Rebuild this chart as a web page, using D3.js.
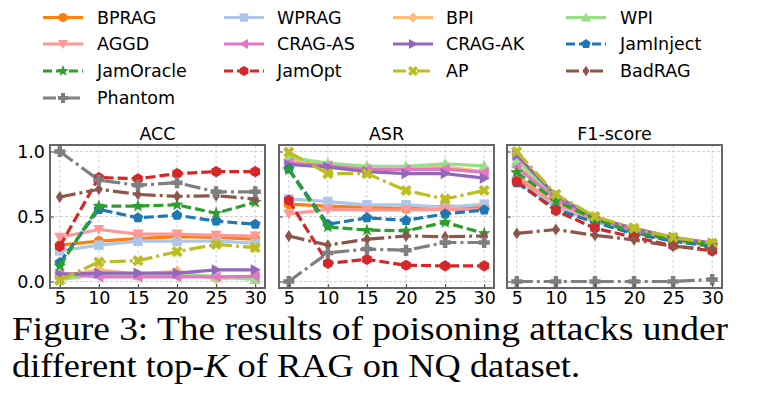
<!DOCTYPE html>
<html>
<head>
<meta charset="utf-8">
<script src="https://cdn.jsdelivr.net/npm/d3@7"></script>
<style>
  body { margin: 0; background: #fff; }
  svg { display: block; }
  text { font-family: "DejaVu Sans", sans-serif; }
</style>
</head>
<body>
<svg id="chart" width="758" height="395"></svg>
<script>
// top-K values on the x axis
const topK = [5, 10, 15, 20, 25, 30];
const yTicks = [0, 0.5, 1.0];
const metrics = ['ACC', 'ASR', 'F1-score'];
const methods = ['BPRAG', 'WPRAG', 'BPI', 'WPI', 'AGGD', 'CRAG-AS', 'CRAG-AK',
                 'JamInject', 'JamOracle', 'JamOpt', 'AP', 'BadRAG', 'Phantom'];

// values, one array per method
const accValues = {
  'BPRAG':     [0.28, 0.31, 0.33, 0.345, 0.34, 0.325],
  'WPRAG':     [0.235, 0.28, 0.31, 0.31, 0.31, 0.295],
  'BPI':       [0.04, 0.09, 0.055, 0.08, 0.02, 0.04],
  'WPI':       [0.015, 0.055, 0.045, 0.055, 0.04, 0.015],
  'AGGD':      [0.34, 0.40, 0.365, 0.365, 0.355, 0.35],
  'CRAG-AS':   [0.065, 0.035, 0.035, 0.035, 0.035, 0.04],
  'CRAG-AK':   [0.055, 0.065, 0.065, 0.065, 0.09, 0.09],
  'JamInject': [0.145, 0.555, 0.49, 0.51, 0.465, 0.44],
  'JamOracle': [0.12, 0.58, 0.58, 0.59, 0.525, 0.61],
  'JamOpt':    [0.27, 0.80, 0.79, 0.83, 0.845, 0.845],
  'AP':        [0.01, 0.15, 0.16, 0.23, 0.285, 0.26],
  'BadRAG':    [0.65, 0.71, 0.67, 0.655, 0.66, 0.635],
  'Phantom':   [1.0, 0.78, 0.74, 0.76, 0.69, 0.69]
};
const asrValues = {
  'BPRAG':     [0.595, 0.58, 0.57, 0.56, 0.58, 0.57],
  'WPRAG':     [0.635, 0.615, 0.59, 0.59, 0.57, 0.595],
  'BPI':       [0.94, 0.89, 0.88, 0.87, 0.88, 0.845],
  'WPI':       [0.955, 0.91, 0.885, 0.885, 0.905, 0.89],
  'AGGD':      [0.52, 0.555, 0.55, 0.55, 0.555, 0.555],
  'CRAG-AS':   [0.91, 0.89, 0.86, 0.86, 0.865, 0.84],
  'CRAG-AK':   [0.90, 0.88, 0.845, 0.83, 0.83, 0.795],
  'JamInject': [0.865, 0.44, 0.49, 0.47, 0.52, 0.55],
  'JamOracle': [0.86, 0.42, 0.395, 0.39, 0.455, 0.37],
  'JamOpt':    [0.625, 0.14, 0.17, 0.125, 0.12, 0.12],
  'AP':        [0.995, 0.83, 0.83, 0.70, 0.635, 0.70],
  'BadRAG':    [0.35, 0.28, 0.325, 0.35, 0.345, 0.35],
  'Phantom':   [0.0, 0.22, 0.25, 0.24, 0.30, 0.30]
};
const f1Values = {
  'BPRAG':     [0.79, 0.58, 0.465, 0.38, 0.32, 0.28],
  'WPRAG':     [0.775, 0.57, 0.46, 0.375, 0.315, 0.275],
  'BPI':       [0.89, 0.64, 0.49, 0.40, 0.33, 0.29],
  'WPI':       [0.93, 0.65, 0.49, 0.40, 0.335, 0.29],
  'AGGD':      [0.815, 0.60, 0.47, 0.385, 0.32, 0.28],
  'CRAG-AS':   [0.88, 0.63, 0.485, 0.395, 0.33, 0.285],
  'CRAG-AK':   [0.97, 0.66, 0.49, 0.41, 0.34, 0.295],
  'JamInject': [0.76, 0.555, 0.455, 0.365, 0.31, 0.27],
  'JamOracle': [0.84, 0.62, 0.48, 0.375, 0.325, 0.28],
  'JamOpt':    [0.77, 0.545, 0.41, 0.34, 0.275, 0.235],
  'AP':        [1.0, 0.67, 0.50, 0.41, 0.34, 0.295],
  'BadRAG':    [0.37, 0.40, 0.355, 0.32, 0.27, 0.25],
  'Phantom':   [0.0, 0.0, 0.0, 0.0, 0.0, 0.015]
};
const panelValues = [accValues, asrValues, f1Values];

// per-method look
const styles = {
  'BPRAG':     { color: '#ff7f0e', dash: null,       marker: 'o' },
  'WPRAG':     { color: '#aec7e8', dash: null,       marker: 's' },
  'BPI':       { color: '#ffbb78', dash: null,       marker: 'D' },
  'WPI':       { color: '#98df8a', dash: null,       marker: '^' },
  'AGGD':      { color: '#ff9896', dash: null,       marker: 'v' },
  'CRAG-AS':   { color: '#e377c2', dash: null,       marker: '<' },
  'CRAG-AK':   { color: '#9467bd', dash: null,       marker: '>' },
  'JamInject': { color: '#1f77b4', dash: '10,4',     marker: 'p' },
  'JamOracle': { color: '#2ca02c', dash: '10,4',     marker: '*' },
  'JamOpt':    { color: '#d62728', dash: '10,4',     marker: 'h' },
  'AP':        { color: '#bcbd22', dash: '16,4,3,4', marker: 'X' },
  'BadRAG':    { color: '#8c564b', dash: '16,4,3,4', marker: 'd' },
  'Phantom':   { color: '#7f7f7f', dash: '16,4,3,4', marker: 'P' }
};

// simple filled marker shapes, s ~ half size
function poly(pts) {
  return 'M' + pts.map(p => p[0].toFixed(2) + ',' + p[1].toFixed(2)).join('L') + 'Z';
}
function regular(n, r, rot) {
  return d3.range(n).map(i => {
    const a = rot + i * 2 * Math.PI / n;
    return [r * Math.sin(a), -r * Math.cos(a)];
  });
}
function markerPath(type, s) {
  switch (type) {
    case 'o': return d3.symbol(d3.symbolCircle, Math.PI * s * s * 0.85)();
    case 's': return poly([[-s*0.85,-s*0.85],[s*0.85,-s*0.85],[s*0.85,s*0.85],[-s*0.85,s*0.85]]);
    case 'D': return poly([[0,-s],[s,0],[0,s],[-s,0]]);
    case 'd': return poly([[0,-s*1.05],[s*0.7,0],[0,s*1.05],[-s*0.7,0]]);
    case '^': return poly([[0,-s],[s,s*0.8],[-s,s*0.8]]);
    case 'v': return poly([[0,s],[s,-s*0.8],[-s,-s*0.8]]);
    case '<': return poly([[-s,0],[s*0.8,-s],[s*0.8,s]]);
    case '>': return poly([[s,0],[-s*0.8,-s],[-s*0.8,s]]);
    case 'p': return poly(regular(5, s, 0));
    case 'h': return poly(regular(6, s, 0));
    case '*': {
      const pts = [];
      for (let i = 0; i < 10; i++) {
        const r = i % 2 ? s * 0.5 : s * 1.2;
        const a = i * Math.PI / 5;
        pts.push([r * Math.sin(a), -r * Math.cos(a)]);
      }
      return poly(pts);
    }
    case 'X': {
      const w = s * 0.5, L = s;
      return poly([[w,0],[L,L-w],[L-w,L],[0,w],[-L+w,L],[-L,L-w],[-w,0],[-L,-L+w],[-L+w,-L],[0,-w],[L-w,-L],[L,-L+w]]);
    }
    case 'P': {
      const w = s * 0.4, L = s;
      return poly([[-w,-L],[w,-L],[w,-w],[L,-w],[L,w],[w,w],[w,L],[-w,L],[-w,w],[-L,w],[-L,-w],[-w,-w]]);
    }
  }
}

const svg = d3.select('#chart');

// ---- legend (4 columns, row-major) ----
const legHandleX = [43, 224, 393, 566];
const legTextX = [97, 277, 446, 620];
const legRowY = [17.5, 44, 71, 98];
const legend = svg.append('g').attr('class', 'legend');
methods.forEach((name, i) => {
  const col = i % 4, row = Math.floor(i / 4);
  const st = styles[name];
  const g = legend.append('g').attr('transform', `translate(0,${legRowY[row]})`);
  g.append('line')
    .attr('x1', legHandleX[col]).attr('x2', legHandleX[col] + 40)
    .attr('stroke', st.color).attr('stroke-width', 3.2)
    .attr('stroke-dasharray', st.dash ? (st.dash === '10,4' ? '9,4' : '13,4,3,4') : null);
  g.append('path')
    .attr('transform', `translate(${legHandleX[col] + 20},0)`)
    .attr('d', markerPath(st.marker, 5))
    .attr('fill', st.color);
  g.append('text')
    .attr('x', legTextX[col]).attr('y', 0).attr('dy', '0.36em')
    .attr('font-size', 17.5).attr('fill', '#000')
    .text(name);
});

// ---- panels ----
const panelLeft = [50, 279, 507];
const panelWidth = 215;
const plotTop = 145, plotBottom = 288;

metrics.forEach((metric, pi) => {
  const left = panelLeft[pi], right = left + panelWidth;
  const x = d3.scaleLinear().domain([3.75, 31.25]).range([left, right]);
  const y = d3.scaleLinear().domain([-0.05, 1.05]).range([plotBottom, plotTop]);
  const g = svg.append('g').attr('class', 'panel');

  // grid
  g.append('g').selectAll('line').data(topK).join('line')
    .attr('x1', d => x(d)).attr('x2', d => x(d)).attr('y1', plotTop).attr('y2', plotBottom)
    .attr('stroke', '#c8c8c8').attr('stroke-width', 0.8).attr('stroke-dasharray', '3,2');
  g.append('g').selectAll('line').data(yTicks).join('line')
    .attr('y1', d => y(d)).attr('y2', d => y(d)).attr('x1', left).attr('x2', right)
    .attr('stroke', '#c8c8c8').attr('stroke-width', 0.8).attr('stroke-dasharray', '3,2');

  // series
  const values = panelValues[pi];
  const line = d3.line().x((d, i) => x(topK[i])).y(d => y(d));
  methods.forEach(name => {
    const st = styles[name];
    const s = g.append('g');
    s.append('path')
      .attr('d', line(values[name]))
      .attr('fill', 'none').attr('stroke', st.color).attr('stroke-width', 3.2)
      .attr('stroke-linejoin', 'round')
      .attr('stroke-dasharray', st.dash);
    s.selectAll('path.m').data(values[name]).join('path')
      .attr('class', 'm')
      .attr('transform', (d, i) => `translate(${x(topK[i])},${y(d)})`)
      .attr('d', markerPath(st.marker, 5.6))
      .attr('fill', st.color);
  });

  // axes with inward ticks
  const xAxis = d3.axisBottom(x).tickValues(topK).tickSizeInner(-4).tickSizeOuter(0).tickPadding(4);
  const gx = g.append('g').attr('transform', `translate(0,${plotBottom})`).call(xAxis);
  const yAxis = d3.axisLeft(y).tickValues(yTicks).tickSizeInner(-4).tickSizeOuter(0).tickPadding(5)
    .tickFormat(pi === 0 ? d3.format('.1f') : () => '');
  const gy = g.append('g').attr('transform', `translate(${left},0)`).call(yAxis);
  [gx, gy].forEach(a => {
    a.select('.domain').remove();
    a.selectAll('line').attr('stroke', '#444').attr('stroke-width', 1);
    a.selectAll('text').attr('font-size', 17.5).attr('fill', '#000')
      .attr('font-family', '"DejaVu Sans", sans-serif');
  });

  // frame
  g.append('rect')
    .attr('x', left).attr('y', plotTop).attr('width', panelWidth).attr('height', plotBottom - plotTop)
    .attr('fill', 'none').attr('stroke', '#666').attr('stroke-width', 2);

  // title
  g.append('text')
    .attr('x', (left + right) / 2).attr('y', 140)
    .attr('text-anchor', 'middle').attr('font-size', 17.5).attr('fill', '#000')
    .text(metric);
});

// ---- caption ----
const cap = svg.append('g').attr('font-size', 33).attr('fill', '#000');
cap.append('text').attr('x', 12).attr('y', 340)
  .attr('textLength', 716).attr('lengthAdjust', 'spacingAndGlyphs')
  .style('font-family', '"Liberation Serif", serif')
  .text('Figure 3: The results of poisoning attacks under');
const line2 = cap.append('text').attr('x', 12).attr('y', 377)
  .attr('textLength', 568).attr('lengthAdjust', 'spacingAndGlyphs')
  .style('font-family', '"Liberation Serif", serif');
line2.append('tspan').text('different top-');
line2.append('tspan').attr('font-style', 'italic').text('K');
line2.append('tspan').text(' of RAG on NQ dataset.');
</script>
</body>
</html>
